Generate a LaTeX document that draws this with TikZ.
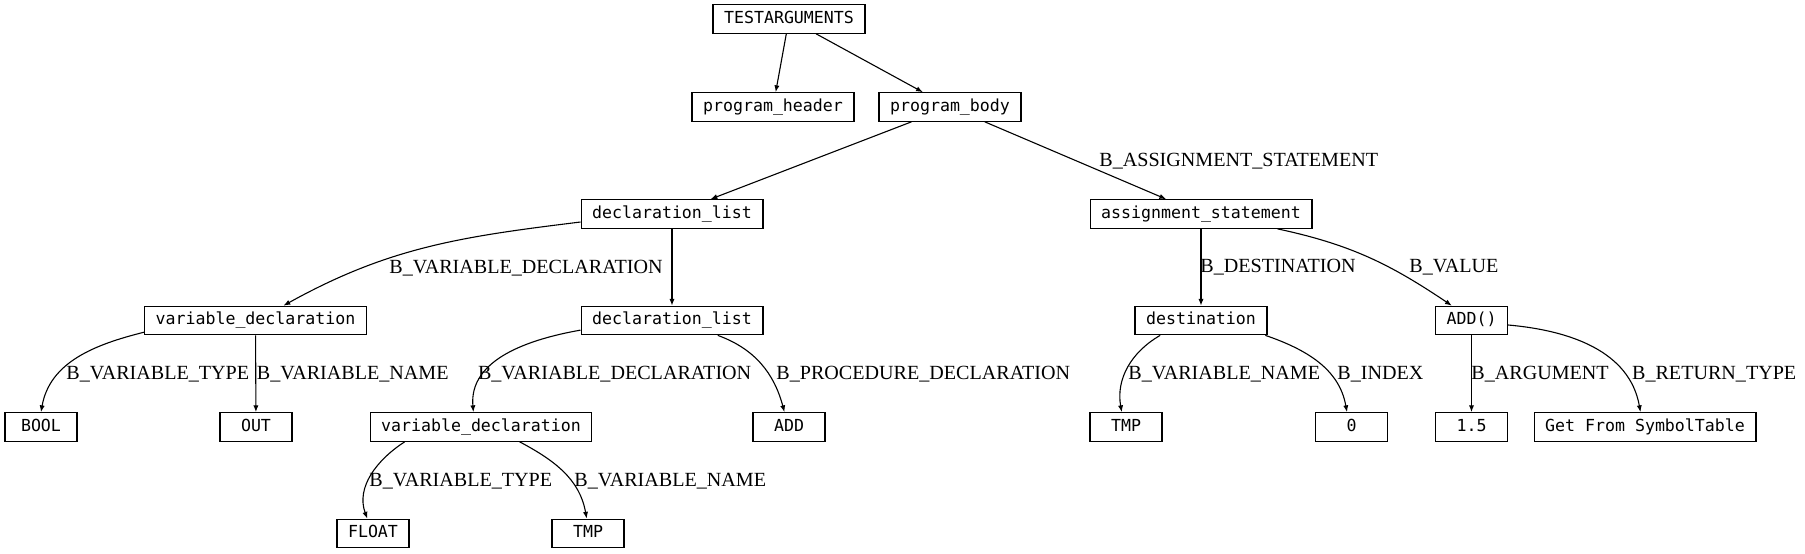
\documentclass[tikz,border=0pt]{standalone}
\usepackage{fontspec}
\setmainfont{Liberation Serif}
\newfontfamily\treefont{DejaVu Sans Mono}
\usetikzlibrary{arrows.meta}

\begin{document}
\begin{tikzpicture}[x=0.5pt,y=0.5pt,
        link/.style={line width=0.55pt,-{Latex[length=3.4pt,width=2.6pt]}},
        tree/.style={draw,line width=0.55pt,font=\treefont\fontsize{8.3pt}{10pt}\selectfont,
            minimum width=36pt,minimum height=14.3pt,inner xsep=5.5pt,inner ysep=0pt,
            text height=6.1pt,text depth=1.9pt},
        lbl/.style={font=\fontsize{10.05pt}{12pt}\selectfont,anchor=base west,inner sep=0pt}]
            \useasboundingbox (0,0) rectangle (1805,-553);

            \node[tree] (root) at (789,-19) {TESTARGUMENTS};
            \node[tree] (ph) at (773,-107) {program\_header};
            \node[tree] (pb) at (950,-107) {program\_body};
            \node[tree] (dl1) at (672,-214) {declaration\_list};
            \node[tree] (as) at (1201,-214) {assignment\_statement};
            \node[tree] (vd1) at (255.5,-320.5) {variable\_declaration};
            \node[tree] (dl2) at (672,-320.5) {declaration\_list};
            \node[tree] (dst) at (1201,-320.5) {destination};
            \node[tree] (call) at (1471.5,-320.5) {ADD()};
            \node[tree] (bool) at (41,-427) {BOOL};
            \node[tree] (out) at (256,-427) {OUT};
            \node[tree] (vd2) at (481,-427) {variable\_declaration};
            \node[tree] (proc) at (789,-427) {ADD};
            \node[tree] (tmpa) at (1126,-427) {TMP};
            \node[tree] (zero) at (1351.5,-427) {0};
            \node[tree] (arg) at (1471.5,-427) {1.5};
            \node[tree] (ret) at (1645,-427) {Get From SymbolTable};
            \node[tree] (float) at (373,-533.5) {FLOAT};
            \node[tree] (tmpb) at (588,-533.5) {TMP};

            \draw[link] (root) -- (ph);
            \draw[link] (root) -- (pb);
            \draw[link] (pb) -- (dl1);
            \draw[link] (pb) -- (as);
            \draw[link] (dl1.185) to[out=187,in=29] (vd1.28);
            \draw[link] (dl1) -- (dl2);
            \draw[link] (vd1.186) to[out=194,in=80] (bool.north);
            \draw[link] (vd1) -- (out);
            \draw[link] (dl2.186) to[out=190,in=95] (vd2.117);
            \draw[link] (dl2.-18) to[out=-20,in=105] (proc.107);
            \draw[link] (vd2.191) to[out=213,in=110] (float.111);
            \draw[link] (vd2.-21) to[out=-28,in=100] (tmpb.95);
            \draw[link] (as) -- (dst);
            \draw[link] (as.-11) to[out=-12,in=146] (call.143);
            \draw[link] (dst.200) to[out=210,in=100] (tmpa.106);
            \draw[link] (dst.-13) to[out=-19,in=100] (zero.107);
            \draw[link] (call) -- (arg);
            \draw[link] (call.-7) to[out=-5,in=100] (ret.107);

            \node[lbl] (l1) at (1099,-166) {B\_ASSIGNMENT\_STATEMENT};
            \node[lbl] (l2) at (389,-273) {B\_VARIABLE\_DECLARATION};
            \node[lbl] (l3) at (1200,-272) {B\_DESTINATION};
            \node[lbl] (l4) at (1409,-272) {B\_VALUE};
            \node[lbl] (l5) at (66,-379) {B\_VARIABLE\_TYPE};
            \node[lbl] (l6) at (256.5,-379) {B\_VARIABLE\_NAME};
            \node[lbl] (l7) at (477.6,-379) {B\_VARIABLE\_DECLARATION};
            \node[lbl] (l8) at (776,-379) {B\_PROCEDURE\_DECLARATION};
            \node[lbl] (l9) at (1128,-379) {B\_VARIABLE\_NAME};
            \node[lbl] (l10) at (1337,-379) {B\_INDEX};
            \node[lbl] (l11) at (1471,-379) {B\_ARGUMENT};
            \node[lbl] (l12) at (1631.7,-379) {B\_RETURN\_TYPE};
            \node[lbl] (l13) at (369,-486) {B\_VARIABLE\_TYPE};
            \node[lbl] (l14) at (574,-486) {B\_VARIABLE\_NAME};
        \end{tikzpicture}
\end{document}
